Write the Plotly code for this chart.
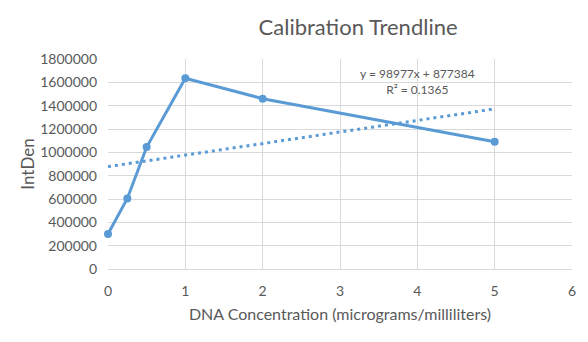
import plotly.graph_objects as go

# Measured calibration points
concentration = [0, 0.25, 0.5, 1, 2, 5]
intden = [300000, 605000, 1045000, 1635000, 1460000, 1090000]

# Linear trendline coefficients (as reported in the equation label)
slope = 98977
intercept = 877384
r_squared = 0.1365

trend_x = [min(concentration), max(concentration)]
trend_y = [slope * x + intercept for x in trend_x]

blue = "#5b9bd5"
grey_text = "#595959"
grid = "#d9d9d9"
font_family = "Lato, 'Open Sans', sans-serif"

fig = go.Figure()
fig.add_trace(go.Scatter(
    x=concentration, y=intden, mode="lines+markers",
    line=dict(color=blue, width=3),
    marker=dict(color=blue, size=8),
    cliponaxis=False,
    showlegend=False,
))
fig.add_trace(go.Scatter(
    x=trend_x, y=trend_y, mode="lines",
    line=dict(color=blue, width=3, dash="3px,4px"),
    cliponaxis=False,
    showlegend=False,
))

fig.add_annotation(
    x=4.0, y=1.0, xref="x", yref="paper", yanchor="top",
    text=f"y = {slope}x + {intercept}<br>R² = {r_squared}",
    showarrow=False, align="center",
    font=dict(family=font_family, size=12, color=grey_text),
    yshift=-5,
)

fig.update_layout(
    width=588, height=342,
    margin=dict(l=108, r=16, t=59, b=73),
    paper_bgcolor="white", plot_bgcolor="white",
    title=dict(text="Calibration Trendline", x=0.609, xanchor="center",
               y=0.92, yanchor="middle",
               font=dict(family=font_family, size=22, color=grey_text)),
    font=dict(family=font_family, color=grey_text, size=14),
    xaxis=dict(
        range=[0, 6], dtick=1, showgrid=True, gridcolor=grid, gridwidth=1,
        zeroline=False, showline=True, linecolor=grid, ticks="",
        ticklabelstandoff=9,
        tickfont=dict(size=14, color=grey_text),
        title=dict(text="DNA Concentration (micrograms/milliliters)",
                   font=dict(size=16, color=grey_text), standoff=11),
    ),
    yaxis=dict(
        range=[0, 1800000], dtick=200000, showgrid=True, gridcolor=grid,
        gridwidth=1, zeroline=False, showline=False, ticks="",
        ticklabelstandoff=10,
        tickformat="d", tickfont=dict(size=14, color=grey_text),
        title=dict(text="IntDen", font=dict(size=17, color=grey_text),
                   standoff=1),
    ),
)

fig.write_html("out.html")
